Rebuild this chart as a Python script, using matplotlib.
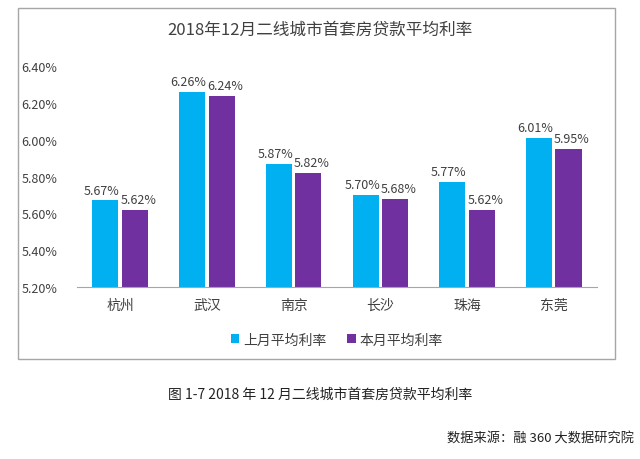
import matplotlib.pyplot as plt
import numpy as np
from matplotlib.patches import Rectangle

plt.rcParams['font.family'] = ['Noto Sans CJK SC', 'DejaVu Sans']

# 数据
cities = ['杭州', '武汉', '南京', '长沙', '珠海', '东莞']
last_month = [5.67, 6.26, 5.87, 5.70, 5.77, 6.01]
this_month = [5.62, 6.24, 5.82, 5.68, 5.62, 5.95]
yticks = [5.20, 5.40, 5.60, 5.80, 6.00, 6.20, 6.40]

c1 = '#00B0F0'
c2 = '#7030A0'

fig = plt.figure(figsize=(6.4, 4.6), dpi=100)
fig.patches.append(Rectangle((0.028, 0.217), 0.933, 0.763, transform=fig.transFigure,
                             fill=False, edgecolor='#a6a6a6', linewidth=1))

ax = fig.add_axes([0.12, 0.374, 0.813, 0.48])
x = np.arange(len(cities))
w = 0.3
b1 = ax.bar(x - 0.17, last_month, w, color=c1, label='上月平均利率')
b2 = ax.bar(x + 0.17, this_month, w, color=c2, label='本月平均利率')

for rect, v in zip(b1, last_month):
    ax.text(rect.get_x() + rect.get_width() / 2 - 0.04, v + 0.02, '%.2f%%' % v,
            ha='center', va='bottom', fontsize=9, color='#404040')
for rect, v in zip(b2, this_month):
    ax.text(rect.get_x() + rect.get_width() / 2 + 0.04, v + 0.02, '%.2f%%' % v,
            ha='center', va='bottom', fontsize=9, color='#404040')

ax.set_ylim(5.2, 6.4)
ax.set_xlim(-0.5, len(cities) - 0.5)
ax.set_yticks(yticks)
ax.set_yticklabels(['%.2f%%' % t for t in yticks], fontsize=9, color='#404040')
ax.set_xticks(x)
ax.set_xticklabels(cities, fontsize=10, color='#404040')
ax.tick_params(axis='both', length=0, pad=8)
ax.tick_params(axis='y', pad=14)
for s in ['top', 'right', 'left']:
    ax.spines[s].set_visible(False)
ax.spines['bottom'].set_color('#a6a6a6')

ax.legend(loc='upper center', bbox_to_anchor=(0.5, -0.15), ncol=2, frameon=False,
          fontsize=10, handlelength=0.6, handleheight=0.6, columnspacing=1.5,
          handletextpad=0.3, labelcolor='#404040')

fig.text(0.5, 0.935, '2018年12月二线城市首套房贷款平均利率', ha='center', va='center',
         fontsize=12, color='#404040')
fig.text(0.5, 0.142, '图 1-7 2018 年 12 月二线城市首套房贷款平均利率', ha='center', va='center',
         fontsize=10, color='#222222')
fig.text(0.99, 0.045, '数据来源：融 360 大数据研究院', ha='right', va='center',
         fontsize=9.5, color='#222222')

plt.savefig('out.png')
